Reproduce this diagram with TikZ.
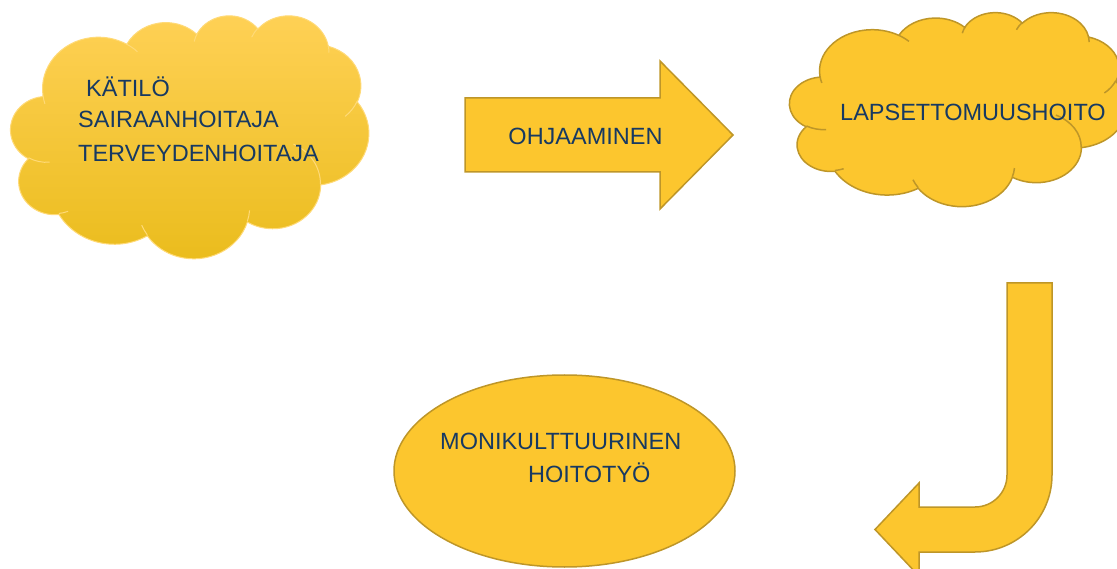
\documentclass[tikz,border=0pt]{standalone}
\usepackage{fontspec}
\setmainfont{Liberation Sans}
\usetikzlibrary{shapes.geometric, positioning}
\definecolor{goldfill}{RGB}{252,198,46}
\definecolor{goldline}{RGB}{190,150,40}
\definecolor{goldtop}{RGB}{255,209,86}
\definecolor{goldbottom}{RGB}{234,188,28}
\definecolor{goldfaint}{RGB}{255,218,120}
\definecolor{navytext}{RGB}{23,57,98}

% pilven ääriviiva ja sisäkaaret (yksikkö 432 x 432)
\newcommand{\pilviulko}{(39,143.7)
    arc[start angle=-187.74, end angle=-59.61, x radius=67.53, y radius=91.90]
    arc[start angle=-152.02, end angle=-45.45, x radius=53.33, y radius=72.67]
    arc[start angle=-153.49, end angle=-37.31, x radius=43.65, y radius=59.45]
    arc[start angle=-139.82, end angle=-10.18, x radius=48.57, y radius=65.95]
    arc[start angle=-74.78, end angle=23.23, x radius=53.33, y radius=72.73]
    arc[start angle=-37.49, end angle=81.85, x radius=67.75, y radius=92.20]
    arc[start angle=0.46, end angle=122.03, x radius=57.85, y radius=78.67]
    arc[start angle=16.87, end angle=146.19, x radius=67.52, y radius=92.15]
    arc[start angle=59.04, end angle=150.13, x radius=77.20, y radius=105.43]
    arc[start angle=-276.71, end angle=-136.99, x radius=43.60, y radius=59.18]
    arc[start angle=-239.76, end angle=-95.87, x radius=43.45, y radius=59.45] -- cycle}
\newcommand{\pilvisisa}{
    (46.93,261.77) arc[start angle=85.54, end angle=120.36, x radius=43.45, y radius=59.45]
    (69.28,348.99) arc[start angle=68.24, end angle=83.31, x radius=43.60, y radius=59.18]
    (164.78,390.90) arc[start angle=146.24, end angle=158.47, x radius=67.52, y radius=92.15]
    (288.27,347.51) arc[start angle=4.73, end angle=16.87, x radius=67.52, y radius=92.15]
    (341.29,229.54) arc[start angle=-64.03, end angle=0.46, x radius=57.85, y radius=78.67]
    (417.98,153.54) arc[start angle=23.23, end angle=49.64, x radius=53.33, y radius=72.73]
    (383.24,54.26) arc[start angle=-10.21, end angle=0.82, x radius=48.57, y radius=65.95]
    (290.78,39.52) arc[start angle=-156.30, end angle=-139.82, x radius=48.57, y radius=65.95]
    (221.41,47.20) arc[start angle=-167.72, end angle=-153.49, x radius=43.65, y radius=59.45]
    (140.00,51.92) arc[start angle=-59.61, end angle=-45.74, x radius=67.53, y radius=91.90]
    (41.27,157.89) arc[start angle=163.19, end angle=172.25, x radius=67.53, y radius=91.90]}

\begin{document}
\begin{tikzpicture}[x=1pt, y=-1pt, every node/.style={font=\fontsize{23.5}{33}\selectfont, text=navytext, inner sep=0pt},
    goldshape/.style={draw=goldline, line width=1.5pt, fill=goldfill}]
\path[use as bounding box, clip] (0,0) rectangle (1117,569);
% pilvet
\begin{scope}[shift={(10.7,15)}, x=0.8287pt, y=-0.5625pt]
  \path[draw=goldfaint, line width=1pt, top color=goldtop, bottom color=goldbottom] \pilviulko;
  \draw[goldfaint, line width=1pt] \pilvisisa;
\end{scope}
\begin{scope}[shift={(789.6,12)}, x=0.7801pt, y=-0.4491pt]
  \path[goldshape] \pilviulko;
  \draw[goldline, line width=1.5pt] \pilvisisa;
\end{scope}
\node[anchor=base west] (kaitilo) at (86,97) {KÄTILÖ};
\node[anchor=base west] (sairaan) at (78,128) {SAIRAANHOITAJA};
\node[anchor=base west] (terveys) at (78,162) {TERVEYDENHOITAJA};
\node[anchor=base west] (lapset) at (840,121) {LAPSETTOMUUSHOITO};
% nuolet
\draw[goldshape] (465,98) -- (660,98) -- (660,61) -- (733,135) -- (660,209) -- (660,172) -- (465,172) -- cycle;
\node (ohjaus) at (585.5,136) {OHJAAMINEN};
\draw[goldshape] (1007,283) -- (1052,283) -- (1052,475) arc[start angle=0, end angle=90, radius=77]
    -- (919,552) -- (919,576) -- (875,529.5) -- (919,483) -- (919,507) -- (975,507)
    arc[start angle=90, end angle=0, radius=32] -- cycle;
% ellipsi
\node[ellipse, goldshape, minimum width=341pt, minimum height=192pt] (kulttuuri) at (564.5,471) {};
\node[anchor=base west] (moni) at (440,449) {MONIKULTTUURINEN};
\node[anchor=base west] (hoito) at (528,482) {HOITOTYÖ};
\end{tikzpicture}
\end{document}
